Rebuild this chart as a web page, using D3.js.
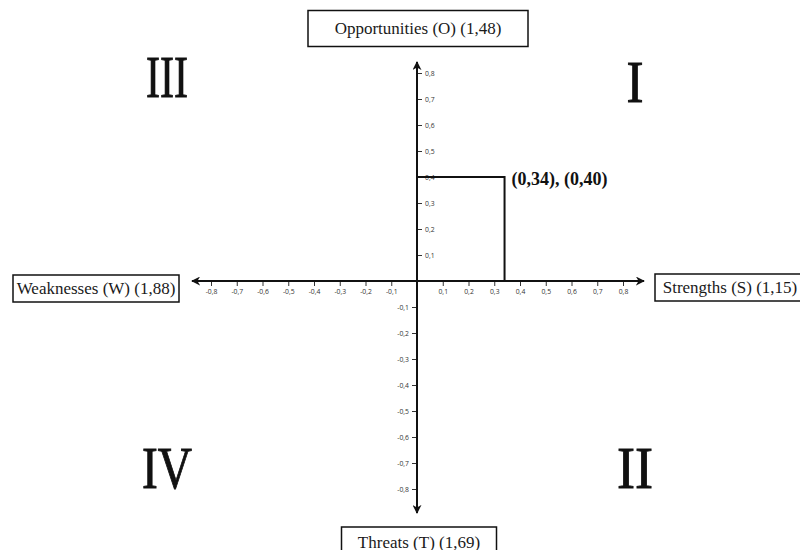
<!DOCTYPE html>
<html><head><meta charset="utf-8">
<script src="https://cdn.jsdelivr.net/npm/d3@7"></script>
<style>body{margin:0;background:#fff}svg{display:block}</style>
</head><body>
<svg id="c" width="800" height="550"></svg>
<script>
const xTicks = [-0.8,-0.7,-0.6,-0.5,-0.4,-0.3,-0.2,-0.1,0.1,0.2,0.3,0.4,0.5,0.6,0.7,0.8];
const yTicks = [-0.8,-0.7,-0.6,-0.5,-0.4,-0.3,-0.2,-0.1,0.1,0.2,0.3,0.4,0.5,0.6,0.7,0.8];
const pointX = 0.34, pointY = 0.40;
const pointLabel = "(0,34), (0,40)";
const axisLabels = {top:"Opportunities (O) (1,48)", right:"Strengths (S) (1,15)", left:"Weaknesses (W) (1,88)", bottom:"Threats (T) (1,69)"};
const quadrants = [
  {name:"I", qx:1, qy:1, w:17},
  {name:"II", qx:1, qy:-1, w:36},
  {name:"III", qx:-1, qy:1, w:42},
  {name:"IV", qx:-1, qy:-1, w:50}
];

const svg = d3.select("#c");
const x = d3.scaleLinear().domain([-0.8,0.8]).range([211,623]);
const y = d3.scaleLinear().domain([-0.8,0.8]).range([489,73]);
const loc = d3.formatLocale({decimal:",", thousands:".", grouping:[3], currency:["",""], minus:"-"});
const fmt = loc.format(".1f");
const serif = "'Liberation Serif', 'Times New Roman', serif";

const defs = svg.append("defs");
defs.append("marker").attr("id","arr").attr("viewBox","0 0 10 10").attr("refX",9).attr("refY",5)
  .attr("markerWidth",4.5).attr("markerHeight",4.5).attr("orient","auto-start-reverse")
  .append("path").attr("d","M0,0 L10,5 L0,10 L3,5 Z").attr("fill","#111");

// X axis
const gx = svg.append("g").attr("transform",`translate(0,${y(0)})`)
  .call(d3.axisBottom(x).tickValues(xTicks).tickFormat(fmt).tickSize(5).tickPadding(3));
gx.select(".domain").remove();

// Y axis: positive ticks right, negative ticks left
const gyp = svg.append("g").attr("transform",`translate(${x(0)},0)`)
  .call(d3.axisRight(y).tickValues(yTicks.filter(d=>d>0)).tickFormat(fmt).tickSize(5).tickPadding(3));
gyp.select(".domain").remove();
const gyn = svg.append("g").attr("transform",`translate(${x(0)},0)`)
  .call(d3.axisLeft(y).tickValues(yTicks.filter(d=>d<0)).tickFormat(fmt).tickSize(5).tickPadding(3));
gyn.select(".domain").remove();
[gx,gyp,gyn].forEach(g=>{
  g.selectAll(".tick line").attr("stroke","#333").attr("stroke-width",1);
  g.selectAll(".tick text").attr("font-family","'Open Sans', sans-serif").attr("font-size",6.8).attr("fill","#333");
});

// Axis lines with arrows
svg.append("line").attr("x1",x(0)).attr("x2",x(0)).attr("y1",y(0)).attr("y2",y(0.8)-11)
  .attr("stroke","#111").attr("stroke-width",2).attr("marker-end","url(#arr)");
svg.append("line").attr("x1",x(0)).attr("x2",x(0)).attr("y1",y(0)).attr("y2",y(-0.8)+24)
  .attr("stroke","#111").attr("stroke-width",2).attr("marker-end","url(#arr)");
svg.append("line").attr("x1",x(0)).attr("x2",x(0.8)+21).attr("y1",y(0)).attr("y2",y(0))
  .attr("stroke","#111").attr("stroke-width",2).attr("marker-end","url(#arr)");
svg.append("line").attr("x1",x(0)).attr("x2",x(-0.8)-19).attr("y1",y(0)).attr("y2",y(0))
  .attr("stroke","#111").attr("stroke-width",2).attr("marker-end","url(#arr)");

// Point rectangle lines
svg.append("path")
  .attr("d",`M${x(0)},${y(pointY)} L${x(pointX)},${y(pointY)} L${x(pointX)},${y(0)}`)
  .attr("fill","none").attr("stroke","#111").attr("stroke-width",2);
svg.append("text").attr("x",x(pointX)+7).attr("y",y(pointY)+8)
  .attr("font-family",serif).attr("font-weight","bold").attr("font-size",18)
  .attr("fill","#111").text(pointLabel);

// Quadrant numerals
quadrants.forEach(q=>{
  const cx = q.qx>0 ? 635 : 167;
  svg.append("text")
    .attr("x", cx - q.w/2)
    .attr("y", q.qy>0 ? (q.qx>0 ? 102 : 97) : 488)
    .attr("textLength", q.w).attr("lengthAdjust","spacingAndGlyphs")
    .attr("font-family",serif).attr("font-size",59).attr("fill","#111")
    .attr("stroke","#111").attr("stroke-width",0.9)
    .text(q.name);
});

// Boxed labels
function box(cx, cy, w, h, label){
  svg.append("rect").attr("x",cx-w/2).attr("y",cy-h/2).attr("width",w).attr("height",h)
    .attr("fill","#fff").attr("stroke","#111").attr("stroke-width",1.5);
  svg.append("text").attr("x",cx).attr("y",cy+5.5).attr("text-anchor","middle")
    .attr("font-family",serif).attr("font-size",17).attr("fill","#1a1a1a").text(label);
}
box(418, 28.5, 220, 36, axisLabels.top);
box(96, 288.5, 166, 27, axisLabels.left);
box(730, 287.5, 150, 27, axisLabels.right);
box(419, 542, 155, 30, axisLabels.bottom);
</script>
</body></html>
